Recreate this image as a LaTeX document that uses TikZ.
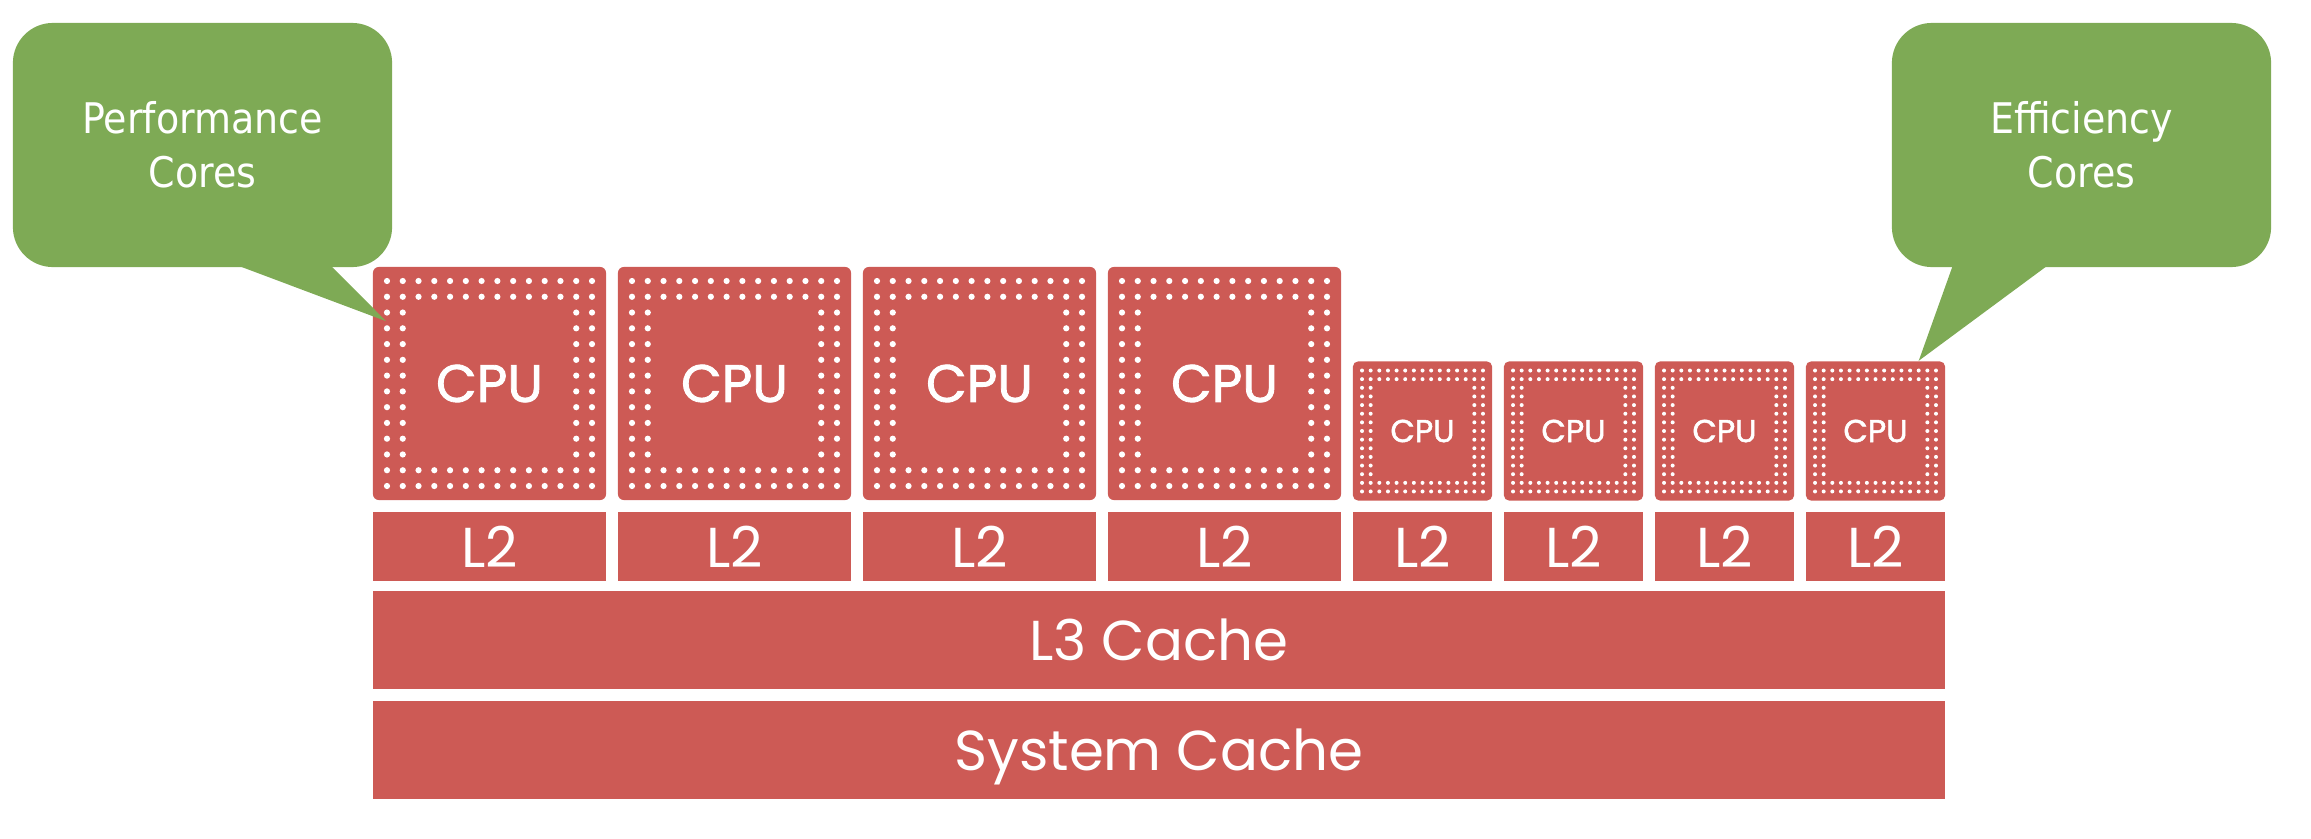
\documentclass[tikz,border=0pt]{standalone}
\usepackage{fontspec}
\usetikzlibrary{positioning}
\newfontfamily\chipfont{Poppins}
\newfontfamily\corefont[FakeBold=1.6]{Poppins}
\newfontfamily\callfont[FakeStretch=0.9]{DejaVu Sans}
\definecolor{chipred}{RGB}{205,90,85}
\definecolor{callgreen}{RGB}{126,170,85}

\begin{document}
\begin{tikzpicture}[x=0.01cm,y=-0.01cm,
    chip/.style={fill=chipred,inner sep=0pt,text=white,font=\chipfont},
    bigcore/.style={chip,rounded corners=0.6mm,minimum size=2.33cm,font=\corefont\fontsize{15}{15}\selectfont},
    smallcore/.style={chip,rounded corners=0.5mm,minimum size=1.39cm,font=\corefont\fontsize{9}{9}\selectfont},
    cachebox/.style={chip,minimum height=0.69cm,text depth=0pt,font=\chipfont\fontsize{16}{16}\selectfont},
    callout/.style={fill=callgreen,rounded corners=4mm,minimum width=3.79cm,minimum height=2.44cm,
        text=white,align=center,font=\callfont\fontsize{12}{15.3}\selectfont}]
\useasboundingbox (0,0) rectangle (2311,839);

% performance cores
\foreach \i in {1,...,4} {
    \node[bigcore] (cpu\i) at ({489.5+245*(\i-1)},383.5) {CPU};
    \node[cachebox,minimum width=2.33cm] (l2\i) at ({489.5+245*(\i-1)},546.5) {L2};
    \begin{scope}[shift={(cpu\i.center)}]
        \foreach \r in {0,1,12,13} \foreach \c in {0,...,13}
            \fill[white] ({(\c-6.5)*15.77},{(\r-6.5)*15.77}) circle (0.31mm);
        \foreach \c in {0,1,12,13} \foreach \r in {2,...,11}
            \fill[white] ({(\c-6.5)*15.77},{(\r-6.5)*15.77}) circle (0.31mm);
    \end{scope}
}

% efficiency cores
\foreach \i in {5,...,8} {
    \node[smallcore] (cpu\i) at ({1422.5+151*(\i-5)},431) {CPU};
    \node[cachebox,minimum width=1.39cm] (l2\i) at ({1422.5+151*(\i-5)},546.5) {L2};
    \begin{scope}[shift={(cpu\i.center)}]
        \foreach \r in {0,1,13,14} \foreach \c in {0,...,14}
            \fill[white] ({(\c-7)*8.64},{(\r-7)*8.64}) circle (0.2mm);
        \foreach \c in {0,1,13,14} \foreach \r in {2,...,12}
            \fill[white] ({(\c-7)*8.64},{(\r-7)*8.64}) circle (0.2mm);
    \end{scope}
}

% shared caches
\node[cachebox,minimum width=15.72cm,minimum height=0.98cm] (l3) at (1159,640) {L3 Cache};
\node[cachebox,minimum width=15.72cm,minimum height=0.98cm] (sys) at (1159,750) {System Cache};

% callouts
\node[callout] (perf) at (202.5,145) {Performance\\Cores};
\node[callout] (eff) at (2081.5,145) {Efficiency\\Cores};
\coordinate (ptip) at ([xshift=0.14cm,yshift=-0.55cm]cpu1.north west);
\coordinate (etip) at ([xshift=-0.27cm]cpu8.north east);
\fill[callgreen] ([xshift=2.22cm,yshift=1pt]perf.south west) -- (ptip)
    -- ([xshift=3.17cm,yshift=1pt]perf.south west) -- cycle;
\fill[callgreen] ([xshift=0.62cm,yshift=1pt]eff.south west) -- (etip)
    -- ([xshift=1.58cm,yshift=1pt]eff.south west) -- cycle;
\end{tikzpicture}
\end{document}
